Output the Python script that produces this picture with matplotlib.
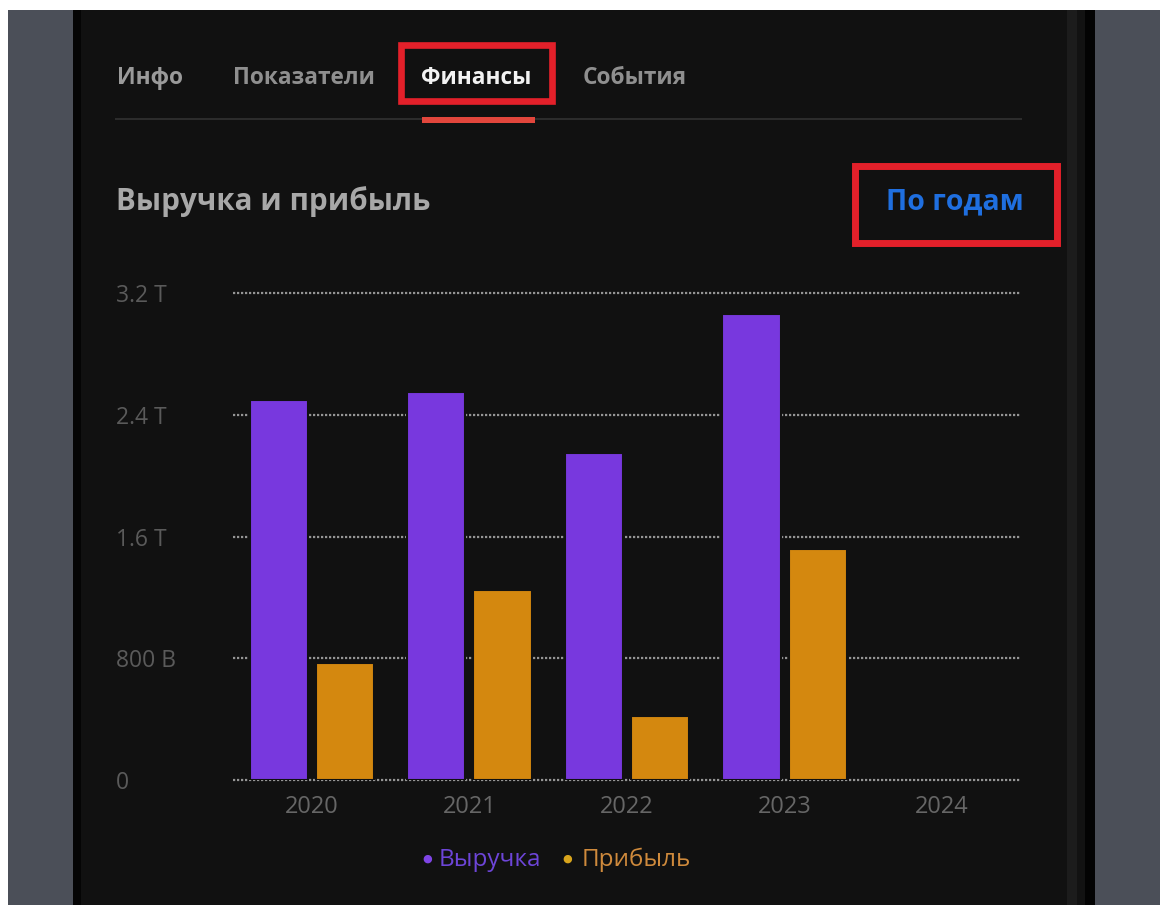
import numpy as np
import matplotlib
matplotlib.use("Agg")
import matplotlib.pyplot as plt
from matplotlib.patches import Rectangle

# ---- data ----
years = ["2020", "2021", "2022", "2023", "2024"]
revenue = [2.50, 2.55, 2.15, 3.06, np.nan]   # trillions
profit = [0.77, 1.25, 0.42, 1.52, np.nan]
ytick_vals = [0, 0.8, 1.6, 2.4, 3.2]
ytick_labels = ["0", "800 B", "1.6 T", "2.4 T", "3.2 T"]
tabs = ["Инфо", "Показатели", "Финансы", "События"]
title = "Выручка и прибыль"
period = "По годам"
series_names = ["Выручка", "Прибыль"]

W, H = 1160, 905
FONT = ["Open Sans", "DejaVu Sans"]
plt.rcParams["font.family"] = FONT

fig = plt.figure(figsize=(W / 100, H / 100), dpi=100)
fig.patch.set_facecolor("white")

def fx(x):
    return x / W

def fy(y):
    return 1 - y / H

def rect(x0, y0, x1, y1, color, z=-5):
    fig.patches.append(Rectangle((fx(x0), fy(y1)), fx(x1) - fx(x0), fy(y0) - fy(y1),
                                 transform=fig.transFigure, facecolor=color,
                                 edgecolor="none", zorder=z))

def box(x0, y0, x1, y1, color, lw):
    fig.patches.append(Rectangle((fx(x0), fy(y1)), fx(x1) - fx(x0), fy(y0) - fy(y1),
                                 transform=fig.transFigure, facecolor="none",
                                 edgecolor=color, linewidth=lw, zorder=5))

# background layers
rect(8, 10, 73, H, "#4b4f58")
rect(73, 10, 81, H, "#050505")
rect(81, 10, 1067, H, "#111111")
rect(1067, 10, 1077, H, "#1c1c1c")
rect(1077, 10, 1085, H, "#121212")
rect(1085, 10, 1095, H, "#030303")
rect(1095, 10, W, H, "#4b4f58")

# tabs
tab_x = [117, 233, 421, 583]
tab_colors = ["#9a9a9a", "#8f8f8f", "#f2f2f2", "#8f8f8f"]
for t, x, c in zip(tabs, tab_x, tab_colors):
    fig.text(fx(x), fy(78), t, color=c, fontsize=16.3, fontweight="bold",
             ha="left", va="center", family=FONT)
rect(115, 118, 1022, 120, "#2c2c2c", z=1)
rect(422, 117, 535, 123, "#e2463c", z=2)
box(401, 45, 552, 101, "#e3202a", 4.8)

# title and period selector
fig.text(fx(116), fy(202), title, color="#a8a8a8", fontsize=21.3, fontweight="bold",
         ha="left", va="center", family=FONT)
fig.text(fx(1024), fy(202), period, color="#1f6fe0", fontsize=20.5, fontweight="bold",
         ha="right", va="center", family=FONT)
box(855, 166, 1057, 243, "#e3202a", 5)

# chart axes
left, right, top, bottom = 233, 1021, 293, 780
ax = fig.add_axes([fx(left), fy(bottom), fx(right) - fx(left), fy(top) - fy(bottom)])
ax.set_facecolor("none")
ax.set_zorder(3)
x = np.arange(len(years))
bw = 0.37
ax.bar(x - 0.21, revenue, width=bw, color="#7838de", zorder=3,
       edgecolor="#111111", linewidth=1.5)
ax.bar(x + 0.21, profit, width=bw, color="#d4880f", zorder=3,
       edgecolor="#111111", linewidth=1.5)
ax.set_xlim(-0.5, len(years) - 0.5)
ax.set_ylim(0, 3.2)
for v in ytick_vals:
    ax.axhline(v, color="#959595", linestyle=(0, (1, 0.8)), linewidth=1.6, zorder=1,
               clip_on=False)
ax.set_yticks(ytick_vals)
ax.set_yticklabels(ytick_labels)
ax.set_xticks(x)
ax.set_xticklabels(years)
ax.tick_params(axis="y", length=0, pad=(left - 116) * 0.72, labelsize=16.5,
               labelcolor="#5a5a5a")
for lbl in ax.get_yticklabels():
    lbl.set_horizontalalignment("left")
ax.tick_params(axis="x", length=0, pad=11, labelsize=17, labelcolor="#666666")
for s in ax.spines.values():
    s.set_visible(False)

# legend
fig.text(fx(422), fy(859), "●", color="#7f45e6", fontsize=8, ha="left", va="center",
         family=["DejaVu Sans"])
fig.text(fx(439), fy(860), series_names[0], color="#6d45d8", fontsize=17.5,
         ha="left", va="center", family=FONT)
fig.text(fx(562), fy(859), "●", color="#d9a51c", fontsize=8, ha="left", va="center",
         family=["DejaVu Sans"])
fig.text(fx(582), fy(860), series_names[1], color="#cf8a3c", fontsize=17.5,
         ha="left", va="center", family=FONT)

fig.savefig("out.png", dpi=100, facecolor=fig.get_facecolor())
